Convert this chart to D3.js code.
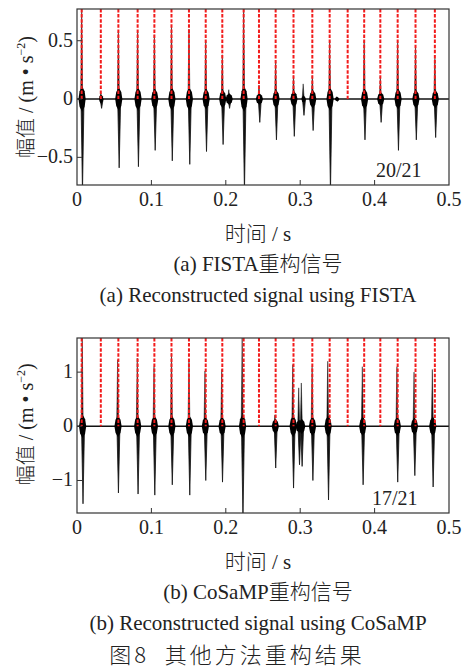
<!DOCTYPE html>
<html>
<head>
<meta charset="utf-8">
<script src="https://cdn.jsdelivr.net/npm/d3@7"></script>
<style>
  body { margin: 0; background: #fff; }
  svg { display: block; }
  .serif { font-family: "Liberation Serif", "DejaVu Serif", serif; fill: #222; }
  .cjk { font-family: "Noto Sans CJK SC", sans-serif; font-weight: 300; fill: #222; }
</style>
</head>
<body>
<script>
// true impact times (red dashed markers), same for both panels
var refTimes = [0.0063, 0.032, 0.0556, 0.0815, 0.104, 0.127, 0.1505, 0.173, 0.1953, 0.224,
  0.2446, 0.267, 0.291, 0.3163, 0.3396, 0.3638, 0.386, 0.4077, 0.431, 0.455, 0.481];

// (a) FISTA reconstruction: event times, positive peak, negative peak, burst amplitude
var fistaTimes = [0.0063, 0.032, 0.0556, 0.0815, 0.104, 0.127, 0.1505, 0.173, 0.1953, 0.204, 0.224,
  0.2446, 0.267, 0.291, 0.304, 0.3163, 0.3396, 0.349, 0.386, 0.4077, 0.431, 0.455, 0.481];
var fistaPos = [0.8, 0.05, 0.58, 0.59, 0.55, 0.63, 0.6, 0.5, 0.38, 0.08, 0.8,
  0.12, 0.32, 0.2, 0.13, 0.2, 0.5, 0.02, 0.5, 0.19, 0.5, 0.45, 0.35];
var fistaNeg = [-0.8, -0.08, -0.59, -0.58, -0.44, -0.53, -0.56, -0.45, -0.39, -0.08, -0.8,
  -0.2, -0.35, -0.32, -0.14, -0.27, -0.8, -0.02, -0.35, -0.2, -0.44, -0.35, -0.33];
var fistaBurst = [0.11, 0.04, 0.1, 0.1, 0.09, 0.1, 0.1, 0.09, 0.08, 0.05, 0.11,
  0.05, 0.08, 0.07, 0.03, 0.08, 0.1, 0.02, 0.09, 0.06, 0.09, 0.08, 0.08];

// (b) CoSaMP reconstruction
var cosampTimes = [0.007, 0.0546, 0.081, 0.1035, 0.127, 0.1505, 0.172, 0.1945, 0.222, 0.266,
  0.290, 0.298, 0.3015, 0.316, 0.337, 0.3835, 0.43, 0.453, 0.4776];
var cosampPos = [1.7, 1.23, 1.26, 1.1, 1.35, 1.2, 1.02, 1.05, 1.7, 0.21,
  1.14, 0.71, 0.8, 1.1, 1.2, 1.1, 1.1, 1.0, 1.05];
var cosampNeg = [-1.43, -1.23, -1.25, -1.27, -1.08, -1.27, -1.0, -1.03, -1.7, -0.77,
  -1.14, -0.71, -0.74, -1.0, -1.36, -1.08, -1.03, -0.91, -1.12];
var cosampBurst = [0.22, 0.2, 0.2, 0.2, 0.2, 0.2, 0.18, 0.18, 0.22, 0.14,
  0.2, 0.12, 0.14, 0.18, 0.2, 0.18, 0.18, 0.16, 0.18];

var xTicks = [0, 0.1, 0.2, 0.3, 0.4, 0.5];
var xTickLabels = ["0", "0.1", "0.2", "0.3", "0.4", "0.5"];

var svg = d3.select("body").append("svg")
  .attr("width", 465)
  .attr("height", 670);

function drawPanel(cfg) {
  var x = d3.scaleLinear().domain([0, 0.5]).range([77, 449]);
  var y = d3.scaleLinear().domain(cfg.yDomain).range([cfg.bottom, cfg.top]);
  var g = svg.append("g");

  g.append("clipPath").attr("id", cfg.id)
    .append("rect")
    .attr("x", 77).attr("y", cfg.top)
    .attr("width", 372).attr("height", cfg.bottom - cfg.top);

  var plot = g.append("g").attr("clip-path", "url(#" + cfg.id + ")");

  // zero line
  plot.append("line")
    .attr("x1", x(0)).attr("x2", x(0.5))
    .attr("y1", y(0)).attr("y2", y(0))
    .attr("stroke", "#111").attr("stroke-width", 1.4);

  var ev = cfg.times.map(function(t, i) {
    return { t: t, pos: cfg.pos[i], neg: cfg.neg[i], b: cfg.burst[i] };
  });

  // positive spikes (tapered)
  plot.selectAll(".pos").data(ev).enter().append("path")
    .attr("d", function(d) {
      var cx = x(d.t);
      return "M" + (cx - 1) + "," + y(0) + "L" + cx + "," + y(d.pos) + "L" + (cx + 1) + "," + y(0) + "Z";
    })
    .attr("fill", "#111").attr("stroke", "#111").attr("stroke-width", 0.5);

  // negative spikes
  plot.selectAll(".neg").data(ev).enter().append("path")
    .attr("d", function(d) {
      var cx = x(d.t) + 0.8;
      return "M" + (cx - 1.5) + "," + y(0) + "L" + cx + "," + y(d.neg) + "L" + (cx + 1.5) + "," + y(0) + "Z";
    })
    .attr("fill", "#111").attr("stroke", "#111").attr("stroke-width", 0.8);

  // oscillation bursts around zero (spindle)
  plot.selectAll(".burst").data(ev).enter().append("path")
    .attr("d", function(d) {
      var cx = x(d.t) + 0.4, w = d.b > cfg.smallBurst ? 3.6 : 2.2;
      return "M" + (cx - w) + "," + y(0) +
        "L" + (cx - w * 0.7) + "," + y(d.b * 0.6) +
        "L" + cx + "," + y(d.b) +
        "L" + (cx + w * 0.7) + "," + y(d.b * 0.6) +
        "L" + (cx + w) + "," + y(0) +
        "L" + (cx + w * 0.7) + "," + y(-d.b * 0.6) +
        "L" + cx + "," + y(-d.b) +
        "L" + (cx - w * 0.7) + "," + y(-d.b * 0.6) + "Z";
    })
    .attr("fill", "#000");

  // red dashed markers of the true impacts
  plot.selectAll(".ref").data(refTimes).enter().append("line")
    .attr("x1", function(d) { return x(d); })
    .attr("x2", function(d) { return x(d); })
    .attr("y1", cfg.top)
    .attr("y2", y(0))
    .attr("stroke", "#f21c1c")
    .attr("stroke-width", 2)
    .attr("stroke-dasharray", "3.5,1.6");

  // frame
  g.append("rect")
    .attr("x", 77).attr("y", cfg.top)
    .attr("width", 372).attr("height", cfg.bottom - cfg.top)
    .attr("fill", "none").attr("stroke", "#333").attr("stroke-width", 1.2);

  // inward ticks
  g.selectAll(".xt").data(xTicks.slice(1, 5)).enter().append("line")
    .attr("x1", function(d) { return x(d); }).attr("x2", function(d) { return x(d); })
    .attr("y1", cfg.bottom).attr("y2", cfg.bottom - 5)
    .attr("stroke", "#333").attr("stroke-width", 1);
  g.selectAll(".yt").data(cfg.yTicks).enter().append("line")
    .attr("x1", 77).attr("x2", 82)
    .attr("y1", function(d) { return y(d); }).attr("y2", function(d) { return y(d); })
    .attr("stroke", "#333").attr("stroke-width", 1);

  // tick labels
  g.selectAll(".xl").data(xTicks).enter().append("text")
    .attr("class", "serif")
    .attr("x", function(d) { return x(d); })
    .attr("y", cfg.bottom + 21)
    .attr("text-anchor", "middle")
    .attr("font-size", 20)
    .text(function(d, i) { return xTickLabels[i]; });
  g.selectAll(".yl").data(cfg.yTicks).enter().append("text")
    .attr("class", "serif")
    .attr("x", 73)
    .attr("y", function(d) { return y(d) + 6; })
    .attr("text-anchor", "end")
    .attr("font-size", 20)
    .text(function(d, i) { return cfg.yTickLabels[i]; });

  // y label
  var yl = g.append("text")
    .attr("transform", "translate(33," + (y(0) - 2) + ") rotate(-90)")
    .attr("text-anchor", "middle")
    .attr("font-size", 20);
  yl.append("tspan").attr("class", "cjk").text("幅值");
  yl.append("tspan").attr("class", "serif").text(" / (m • s");
  yl.append("tspan").attr("class", "serif").attr("font-size", 12).attr("dy", -8).text("−2");
  yl.append("tspan").attr("class", "serif").attr("dy", 8).text(")");

  // count label
  g.append("text").attr("class", "serif")
    .attr("x", cfg.countX).attr("y", cfg.bottom - 8)
    .attr("font-size", 20)
    .text(cfg.count);

  // x label
  var xl = g.append("text")
    .attr("x", 258).attr("y", cfg.bottom + 56)
    .attr("text-anchor", "middle")
    .attr("font-size", 21);
  xl.append("tspan").attr("class", "cjk").text("时间");
  xl.append("tspan").attr("class", "serif").text(" / s");

  // captions
  var c1 = g.append("text")
    .attr("x", 258).attr("y", cfg.bottom + 86)
    .attr("text-anchor", "middle")
    .attr("font-size", 21);
  c1.append("tspan").attr("class", "serif").text(cfg.cap1);
  c1.append("tspan").attr("class", "cjk").text("重构信号");

  g.append("text").attr("class", "serif")
    .attr("x", 258).attr("y", cfg.bottom + 117)
    .attr("text-anchor", "middle")
    .attr("font-size", 21)
    .text(cfg.cap2);
}

drawPanel({
  id: "clipA", top: 9, bottom: 185, yDomain: [-0.737, 0.772],
  yTicks: [0.5, 0, -0.5], yTickLabels: ["0.5", "0", "−0.5"],
  times: fistaTimes, pos: fistaPos, neg: fistaNeg, burst: fistaBurst, smallBurst: 0.045,
  count: "20/21", countX: 376,
  cap1: "(a) FISTA", cap2: "(a) Reconstructed signal using FISTA"
});

drawPanel({
  id: "clipB", top: 338, bottom: 513, yDomain: [-1.6, 1.63],
  yTicks: [1, 0, -1], yTickLabels: ["1", "0", "−1"],
  times: cosampTimes, pos: cosampPos, neg: cosampNeg, burst: cosampBurst, smallBurst: 0.05,
  count: "17/21", countX: 372,
  cap1: "(b) CoSaMP", cap2: "(b) Reconstructed signal using CoSaMP"
});

svg.append("text").attr("class", "cjk")
  .attr("x", 237).attr("y", 663)
  .attr("text-anchor", "middle")
  .attr("font-size", 22)
  .attr("letter-spacing", 3)
  .attr("xml:space", "preserve")
  .text("图8  其他方法重构结果");
</script>
</body>
</html>
